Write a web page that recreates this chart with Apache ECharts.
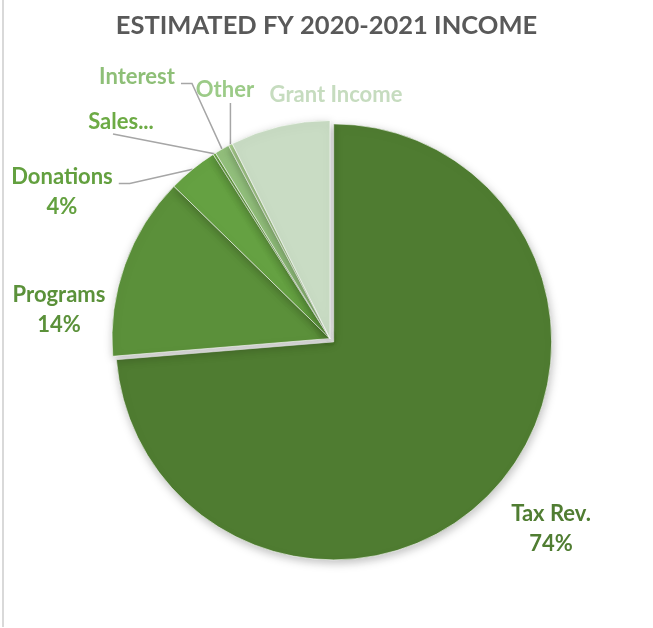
<!DOCTYPE html>
<html>
<head>
<meta charset="utf-8">
<script src="https://cdn.jsdelivr.net/npm/echarts@6/dist/echarts.min.js"></script>
<style>
  html, body { margin: 0; padding: 0; background: #fff; }
  #frame { position: absolute; left: 2px; top: 0; width: 2px; height: 627px; background: #d9d9d9; }
  #chart { position: absolute; left: 0; top: 0; width: 653px; height: 628px; }
</style>
</head>
<body>
<div id="frame"></div>
<div id="chart"></div>
<script>
// Income sources, in percent of the estimated total
const categories = ['Tax Rev.', 'Programs', 'Donations', 'Sales...', 'Interest', 'Other', 'Grant Income'];
const shares = [73.7, 13.6, 3.7, 0.2, 1.1, 0.3, 7.4];
const showPercent = [true, true, true, false, false, false, false];

// Slice and label styling
const sliceColors = ['#4f7c31', '#5b903a', '#65a142', '#6fac48', '#93c07c', '#a9d08e', '#c9dcc4'];
const labelColors = ['#507d32', '#5b913a', '#63a03f', '#6dab45', '#8ebf77', '#9ccb88', '#c6dcbf'];
// label block centres and leader-line style per slice
const labelSpots = [[551, 529], [59, 310], [62, 192], [121, 122], [137, 77], [225, 90], [336, 95]];
const leaderKind = ['none', 'none', 'elbow', 'below', 'elbow', 'drop', 'none'];

const FONT = 'Lato';
const LINE_H = 30;
const CENTER = [330, 338.5];
const RADIUS = 218;

const chart = echarts.init(document.getElementById('chart'), null, { renderer: 'canvas' });

// Slices: the tax slice is pulled out slightly
const sliceData = categories.map((name, i) => ({
  name,
  value: shares[i],
  selected: i === 0,
  itemStyle: { color: sliceColors[i] }
}));

// Same values again, drawn invisibly, carrying the labels and leader lines
const labelData = categories.map((name, i) => ({
  name,
  value: shares[i],
  label: { color: labelColors[i] },
  labelLine: { show: leaderKind[i] !== 'none' }
}));

chart.setOption({
  animation: false,
  backgroundColor: 'transparent',
  title: {
    text: 'ESTIMATED FY 2020-2021 INCOME',
    left: 'center',
    top: 8,
    textStyle: { fontFamily: FONT, fontSize: 25.5, fontWeight: 'bold', color: '#595959' }
  },
  series: [{
    type: 'pie',
    center: CENTER,
    radius: RADIUS,
    startAngle: 90,
    clockwise: true,
    selectedMode: 'single',
    selectedOffset: 5,
    silent: true,
    emphasis: { disabled: true },
    itemStyle: {
      borderColor: 'rgba(255,255,255,0.75)',
      borderWidth: 0.8,
      shadowBlur: 10,
      shadowColor: 'rgba(0,0,0,0.25)',
      shadowOffsetX: 1,
      shadowOffsetY: 3
    },
    label: { show: false },
    labelLine: { show: false },
    data: sliceData
  }, {
    type: 'pie',
    center: CENTER,
    radius: RADIUS,
    startAngle: 90,
    clockwise: true,
    silent: true,
    avoidLabelOverlap: false,
    emphasis: { disabled: true },
    itemStyle: { color: 'rgba(0,0,0,0)', borderWidth: 0 },
    label: {
      show: true,
      position: 'outside',
      fontFamily: FONT,
      fontSize: 22,
      fontWeight: 'bold',
      lineHeight: LINE_H,
      align: 'center',
      formatter: p => showPercent[p.dataIndex]
        ? p.name + '\n' + Math.round(p.percent) + '%'
        : p.name
    },
    labelLine: {
      lineStyle: { color: '#a6a6a6', width: 1.5 },
      smooth: false
    },
    labelLayout: params => {
      const i = params.dataIndex;
      const [cx, cy] = labelSpots[i];
      const w = params.labelRect.width;
      const h = params.labelRect.height;
      const out = { x: cx, y: cy, align: 'center', verticalAlign: 'middle' };
      const anchor = params.labelLinePoints ? params.labelLinePoints[0] : null;
      if (!anchor) return out;
      const top = cy - h / 2;
      const kind = leaderKind[i];
      if (kind === 'elbow') {
        const ly = top + 21.5;
        const right = cx + w / 2;
        out.labelLinePoints = [anchor, [right + 17, ly], [right + 6, ly]];
      } else if (kind === 'below') {
        const p = [cx - 8, cy + h / 2 - 3];
        out.labelLinePoints = [anchor, p, p];
      } else if (kind === 'drop') {
        const p = [anchor[0], cy + h / 2 - 2];
        out.labelLinePoints = [anchor, p, p];
      }
      return out;
    },
    data: labelData
  }]
});
</script>
</body>
</html>
